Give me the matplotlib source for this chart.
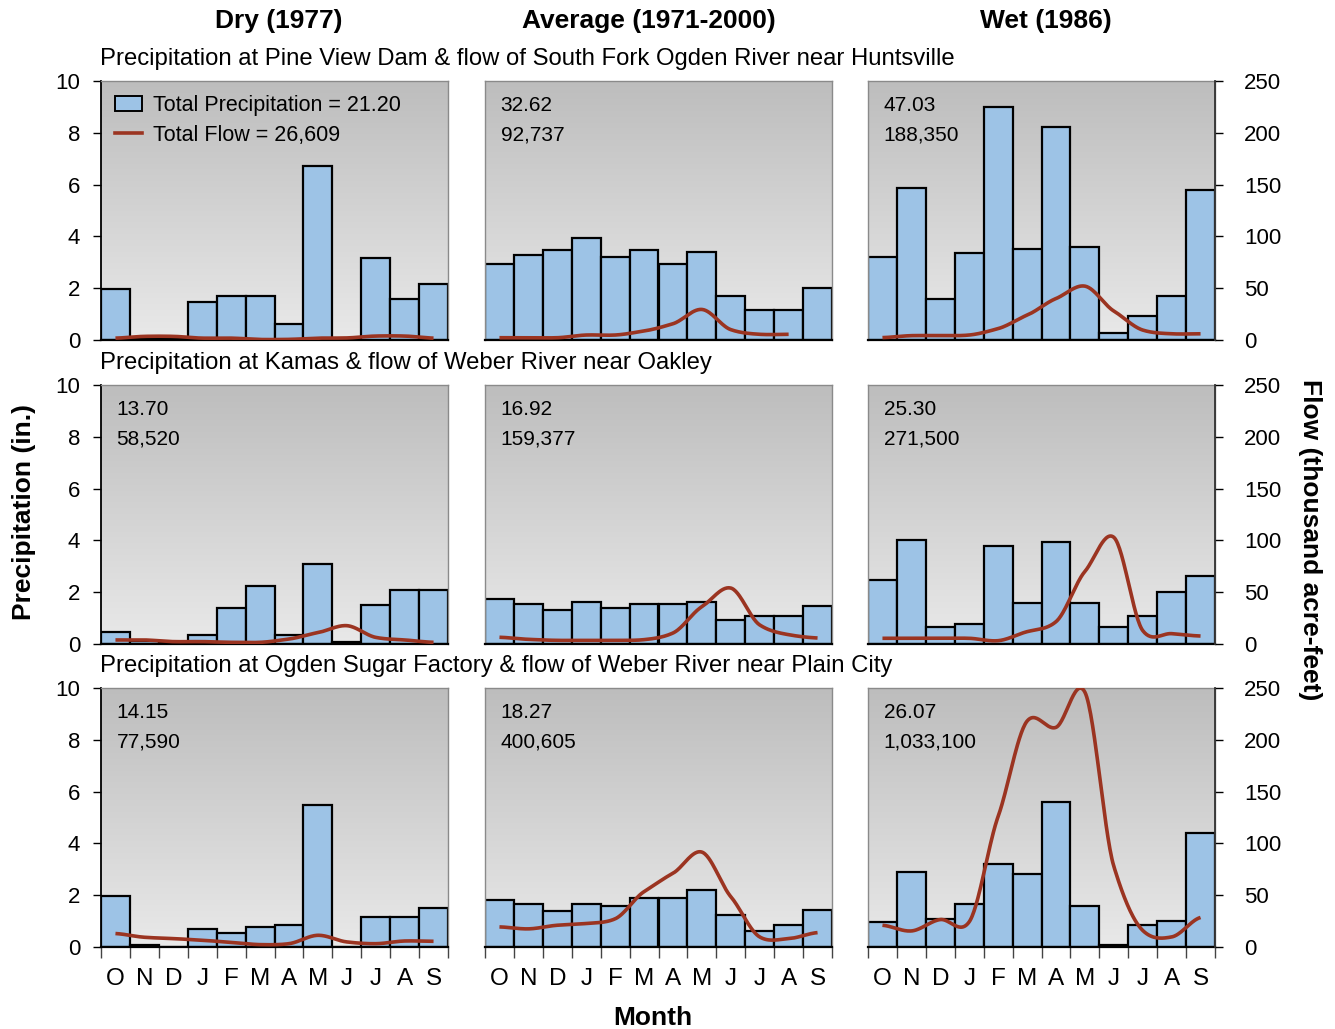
import numpy as np
import matplotlib
matplotlib.use("Agg")
import matplotlib.pyplot as plt
from matplotlib.patches import Patch
from matplotlib.lines import Line2D

plt.rcParams['font.family'] = ['Liberation Sans', 'DejaVu Sans']

# ---- data ----
months = ['O', 'N', 'D', 'J', 'F', 'M', 'A', 'M', 'J', 'J', 'A', 'S']
col_titles = ['Dry (1977)', 'Average (1971-2000)', 'Wet (1986)']
row_titles = [
    'Precipitation at Pine View Dam & flow of South Fork Ogden River near Huntsville',
    'Precipitation at Kamas & flow of Weber River near Oakley',
    'Precipitation at Ogden Sugar Factory & flow of Weber River near Plain City',
]

# monthly precipitation (in.)
pine_dry_precip = [1.95, 0.05, 0.02, 1.45, 1.70, 1.70, 0.62, 6.70, 0.05, 3.15, 1.60, 2.15]
pine_avg_precip = [2.92, 3.30, 3.46, 3.92, 3.22, 3.46, 2.93, 3.38, 1.70, 1.16, 1.16, 2.01]
pine_wet_precip = [3.19, 5.86, 1.60, 3.35, 8.98, 3.51, 8.22, 3.59, 0.26, 0.94, 1.70, 5.80]
kamas_dry_precip = [0.48, 0.10, 0.05, 0.33, 1.40, 2.25, 0.33, 3.10, 0.08, 1.50, 2.08, 2.08]
kamas_avg_precip = [1.72, 1.56, 1.32, 1.64, 1.40, 1.55, 1.55, 1.64, 0.94, 1.09, 1.09, 1.48]
kamas_wet_precip = [2.46, 4.02, 0.66, 0.78, 3.78, 1.60, 3.93, 1.60, 0.66, 1.08, 2.01, 2.62]
ogden_dry_precip = [1.98, 0.08, 0.00, 0.69, 0.54, 0.76, 0.84, 5.50, 0.00, 1.14, 1.14, 1.52]
ogden_avg_precip = [1.83, 1.67, 1.38, 1.67, 1.59, 1.90, 1.90, 2.21, 1.23, 0.62, 0.84, 1.44]
ogden_wet_precip = [0.98, 2.88, 1.07, 1.67, 3.20, 2.81, 5.60, 1.58, 0.09, 0.84, 1.00, 4.40]

# monthly flow (thousand acre-feet); NaN = no record
pine_dry_flow = [1.8, 3.5, 3.5, 1.8, 1.8, 0.5, 0.6, 1.8, 2.0, 3.8, 3.8, 1.8]
pine_avg_flow = [2.2, 2.2, 2.2, 4.8, 4.8, 8.7, 15.7, 29.5, 10.0, 5.5, 5.5, np.nan]
pine_wet_flow = [2.3, 4.2, 4.2, 4.8, 11.0, 24.0, 40.0, 52.0, 28.0, 9.6, 6.0, 6.0]
kamas_dry_flow = [3.9, 3.9, 2.3, 2.3, 1.6, 1.6, 4.8, 11.0, 17.7, 6.4, 3.9, 1.6]
kamas_avg_flow = [6.5, 4.5, 3.5, 3.5, 3.5, 4.2, 10.6, 36.0, 54.0, 18.4, 9.0, 5.8]
kamas_wet_flow = [5.5, 5.5, 5.5, 5.5, 3.2, 11.9, 21.5, 70.0, 103.0, 13.0, 10.0, 7.7]
ogden_dry_flow = [13.0, 9.4, 8.1, 6.5, 4.5, 2.3, 3.2, 11.3, 4.9, 3.2, 5.8, 5.5]
ogden_avg_flow = [19.4, 17.5, 21.0, 22.7, 27.2, 53.4, 71.2, 91.6, 48.6, 9.7, 8.1, 13.9]
ogden_wet_flow = [21.0, 15.5, 26.5, 24.3, 126.0, 218.0, 212.0, 246.0, 78.0, 16.0, 9.7, 28.5]

total_precip = [['21.20', '32.62', '47.03'],
                ['13.70', '16.92', '25.30'],
                ['14.15', '18.27', '26.07']]
total_flow = [['26,609', '92,737', '188,350'],
              ['58,520', '159,377', '271,500'],
              ['77,590', '400,605', '1,033,100']]

precip = [[pine_dry_precip, pine_avg_precip, pine_wet_precip],
          [kamas_dry_precip, kamas_avg_precip, kamas_wet_precip],
          [ogden_dry_precip, ogden_avg_precip, ogden_wet_precip]]
flow = [[pine_dry_flow, pine_avg_flow, pine_wet_flow],
        [kamas_dry_flow, kamas_avg_flow, kamas_wet_flow],
        [ogden_dry_flow, ogden_avg_flow, ogden_wet_flow]]

BAR_COLOR = '#9dc3e6'
LINE_COLOR = '#9b3421'
BORDER = '#8a8a8a'


def smooth_curve(vals, tension=0.8, steps=30):
    """Cardinal spline through the monthly points (smoothed line)."""
    y = np.asarray(vals, dtype=float)
    x = np.arange(len(y), dtype=float)
    keep = ~np.isnan(y)
    x, y = x[keep], y[keep]
    m = np.zeros_like(y)
    m[1:-1] = tension * (y[2:] - y[:-2]) / 2.0
    m[0] = tension * (y[1] - y[0]) / 2.0
    m[-1] = tension * (y[-1] - y[-2]) / 2.0
    xs, ys = [], []
    t = np.linspace(0, 1, steps, endpoint=False)
    h00 = 2 * t ** 3 - 3 * t ** 2 + 1
    h10 = t ** 3 - 2 * t ** 2 + t
    h01 = -2 * t ** 3 + 3 * t ** 2
    h11 = t ** 3 - t ** 2
    for i in range(len(x) - 1):
        xs.append(x[i] + t)
        ys.append(h00 * y[i] + h10 * m[i] + h01 * y[i + 1] + h11 * m[i + 1])
    xs.append([x[-1]])
    ys.append([y[-1]])
    return np.concatenate(xs), np.clip(np.concatenate(ys), 0, None)


W, H = 1335, 1029
fig = plt.figure(figsize=(W / 100, H / 100), dpi=100)

col_left = [101, 485, 868]
row_top = [81, 385, 688]
pw, ph = 347, 259
header_x = [279, 649, 1046]

gradient = np.linspace(0, 1, 256).reshape(-1, 1)
bg_cmap = matplotlib.colors.LinearSegmentedColormap.from_list('bg', ['#e9e9e9', '#bdbdbd'])

x = np.arange(12)
for r in range(3):
    for c in range(3):
        ax = fig.add_axes([col_left[c] / W, 1 - (row_top[r] + ph) / H, pw / W, ph / H])
        ax.imshow(gradient, cmap=bg_cmap, aspect='auto', extent=[0, 1, 0, 1],
                  transform=ax.transAxes, origin='lower', zorder=0)
        ax.bar(x, precip[r][c], width=1.0, color=BAR_COLOR, edgecolor='black',
               linewidth=1.6, zorder=2)
        ax.set_xlim(-0.5, 11.5)
        ax.set_ylim(0, 10)

        for side in ('top', 'right', 'left'):
            ax.spines[side].set_color(BORDER)
            ax.spines[side].set_linewidth(1.0)
        ax.spines['bottom'].set_color('black')
        ax.spines['bottom'].set_linewidth(1.6)

        if c == 0:
            ax.spines['left'].set_color('black')
            ax.spines['left'].set_linewidth(1.3)
            ax.set_yticks(range(0, 11, 2))
            ax.tick_params(axis='y', direction='out', length=6, width=1.0,
                           labelsize=16, pad=9)
        else:
            ax.set_yticks([])

        if r == 2:
            ax.set_xticks(np.arange(-0.5, 12, 1))
            ax.set_xticklabels([])
            ax.set_xticks(x, minor=True)
            ax.set_xticklabels(months, minor=True)
            ax.tick_params(axis='x', which='major', direction='out', length=8,
                           width=1.0, color='#444444')
            ax.tick_params(axis='x', which='minor', length=0, labelsize=17.5, pad=15)
        else:
            ax.set_xticks([])

        ax2 = ax.twinx()
        fx, fy = smooth_curve(flow[r][c])
        ax2.plot(fx, fy, color=LINE_COLOR, linewidth=2.6, solid_capstyle='butt', zorder=3)
        ax2.set_ylim(0, 250)
        ax2.set_xlim(-0.5, 11.5)
        for s in ax2.spines.values():
            s.set_visible(False)
        if c == 2:
            ax2.spines['right'].set_visible(True)
            ax2.spines['right'].set_color('#333333')
            ax2.spines['right'].set_linewidth(1.3)
            ax2.set_yticks(range(0, 251, 50))
            ax2.tick_params(axis='y', direction='out', length=6, width=1.0,
                            labelsize=16, pad=15)
        else:
            ax2.set_yticks([])

        if r == 0 and c == 0:
            handles = [Patch(facecolor=BAR_COLOR, edgecolor='black', linewidth=1.4),
                       Line2D([], [], color=LINE_COLOR, linewidth=2.6)]
            labels = ['Total Precipitation = ' + total_precip[r][c],
                      'Total Flow = ' + total_flow[r][c]]
            ax2.legend(handles, labels, loc='upper left', frameon=False, fontsize=15.5,
                       handlelength=1.25, handleheight=0.7, handletextpad=0.5,
                       labelspacing=0.4, borderaxespad=0.25, borderpad=0.4)
        else:
            ax2.text(0.045, 0.905, total_precip[r][c], transform=ax2.transAxes,
                     fontsize=15, va='center', ha='left')
            ax2.text(0.045, 0.79, total_flow[r][c], transform=ax2.transAxes,
                     fontsize=15, va='center', ha='left')

    fig.text(100 / W, 1 - (row_top[r] - 22) / H, row_titles[r], fontsize=17.2,
             ha='left', va='center')

for c in range(3):
    fig.text(header_x[c] / W, 1 - 21 / H, col_titles[c], fontsize=19,
             fontweight='bold', ha='center', va='center')

fig.text(24 / W, 1 - 512 / H, 'Precipitation (in.)', fontsize=19, fontweight='bold',
         rotation=90, ha='center', va='center')
fig.text(1310 / W, 1 - 540 / H, 'Flow (thousand acre-feet)', fontsize=19,
         fontweight='bold', rotation=-90, ha='center', va='center')
fig.text(653 / W, 1 - 1018 / H, 'Month', fontsize=19, fontweight='bold',
         ha='center', va='center')

fig.savefig('out.png', dpi=100, facecolor='white')
